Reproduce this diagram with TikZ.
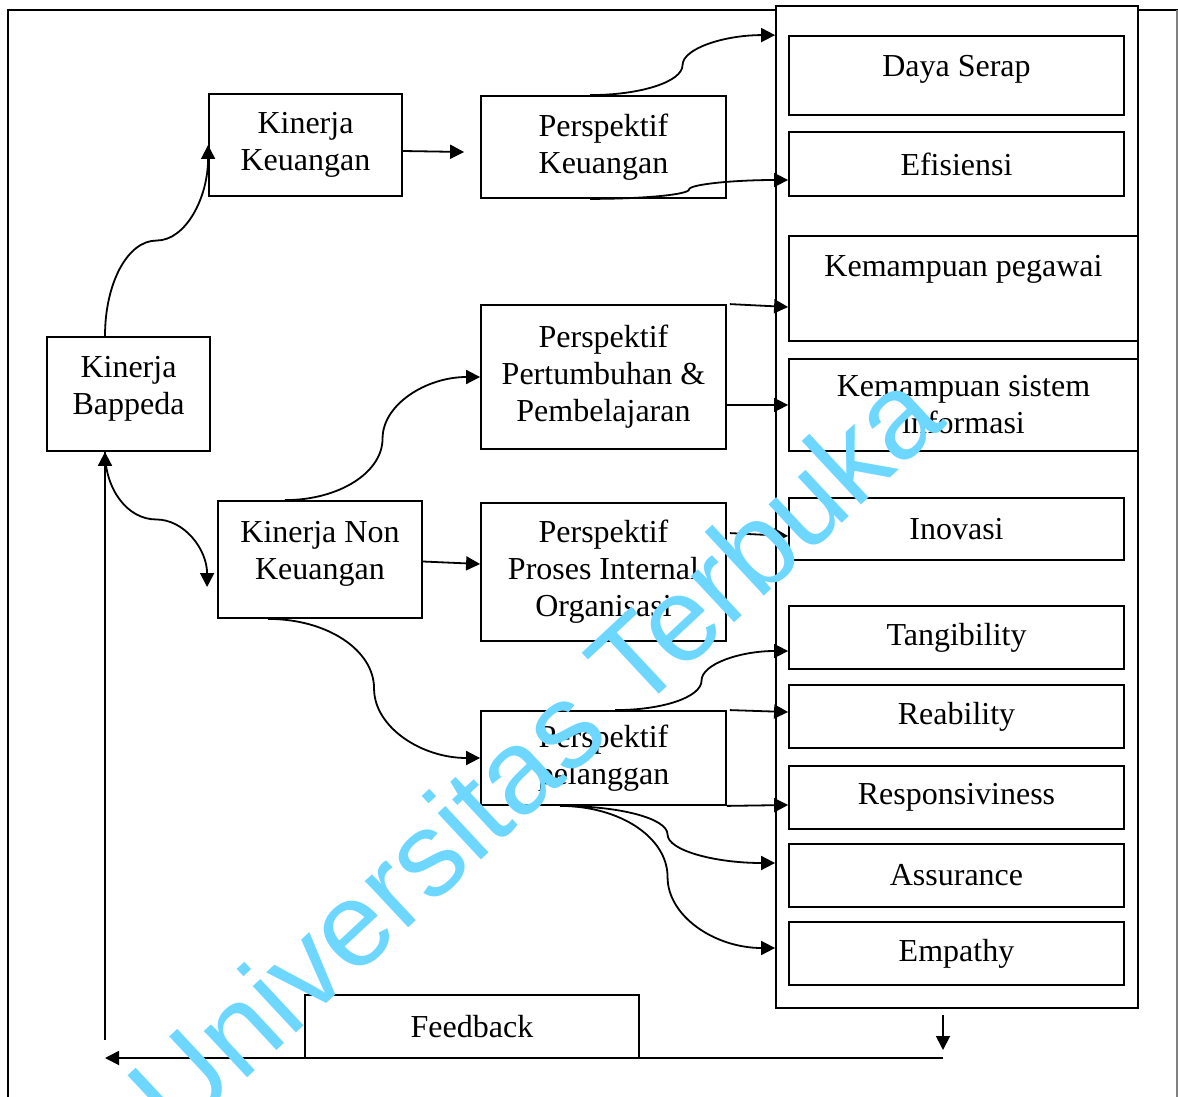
\documentclass[tikz,border=0pt]{standalone}
\usepackage{fontspec}
\setmainfont{Liberation Serif}
\newfontfamily\wmfont{Liberation Sans}
\usetikzlibrary{arrows.meta,calc}
\definecolor{wmblue}{RGB}{110,215,255}

\begin{document}
\begin{tikzpicture}[x=0.5pt,y=-0.5pt,>={Triangle[length=7pt,width=7pt]},line width=0.9pt,
  font=\fontsize{16}{18.5}\selectfont,
  box/.style={draw,inner sep=0pt,align=center}]
\useasboundingbox (0,0) rectangle (1178,1097);

% frame
\draw (8,1097) -- (8,10) -- (776,10);
\draw (1138,10) -- (1178,10);
\draw[gray,line width=0.6pt] (1177,10) -- (1177,1097);

% left side
\node[box,minimum width=81.5pt,minimum height=57pt,label={[yshift=2.5pt,align=center]center:Kinerja\\Bappeda}] (bappeda) at (128.5,394) {};
\node[box,minimum width=96.5pt,minimum height=51pt] (kinkeu) at (305.5,145) {Kinerja\\Keuangan};
\node[box,minimum width=102pt,minimum height=58.5pt,label={[yshift=3pt,align=center]center:Kinerja Non\\Keuangan}] (nonkeu) at (320,559.5) {};

% perspektif
\node[box,minimum width=122.5pt,minimum height=51pt] (perskeu) at (603.5,147) {Perspektif\\Keuangan};
\node[box,minimum width=122.5pt,minimum height=72pt] (perstumbuh) at (603.5,377) {Perspektif\\Pertumbuhan \&\\Pembelajaran};
\node[box,minimum width=122.5pt,minimum height=69pt] (proses) at (603.5,572) {Perspektif\\Proses Internal\\Organisasi};
\node[box,minimum width=122.5pt,minimum height=47pt] (pelanggan) at (603.5,758) {Perspektif\\pelanggan};
\node[box,minimum width=167pt,minimum height=31.5pt] (feedback) at (472,1026.5) {Feedback};

% indikator
\node[box,minimum width=181pt,minimum height=501pt] (column) at (957,507) {};
\node[box,minimum width=167.5pt,minimum height=39.5pt,label={[yshift=3.25pt]center:Daya Serap}] (dayaserap) at (956.5,75.5) {};
\node[box,minimum width=167.5pt,minimum height=32pt] (efisiensi) at (956.5,164) {Efisiensi};
\node[box,minimum width=174.5pt,minimum height=52.5pt,label={[yshift=9.75pt]center:Kemampuan pegawai}] (kpegawai) at (963.5,288.5) {};
\node[box,minimum width=174.5pt,minimum height=46pt] (ksistem) at (963.5,405) {Kemampuan sistem\\informasi};
\node[box,minimum width=167.5pt,minimum height=31pt] (inovasi) at (956.5,529) {Inovasi};
\node[box,minimum width=167.5pt,minimum height=31.5pt] (tangibility) at (956.5,637.5) {Tangibility};
\node[box,minimum width=167.5pt,minimum height=31.5pt] (reability) at (956.5,716.5) {Reability};
\node[box,minimum width=167.5pt,minimum height=31.5pt] (responsiviness) at (956.5,797.5) {Responsiviness};
\node[box,minimum width=167.5pt,minimum height=31.5pt] (assurance) at (956.5,875.5) {Assurance};
\node[box,minimum width=167.5pt,minimum height=31.5pt] (empathy) at (956.5,953.5) {Empathy};

% ends of the curved connectors
\coordinate (bp-n) at (105,0 |- bappeda.north);
\coordinate (bp-s) at (105,0 |- bappeda.south);
\coordinate (nk-in) at ([xshift=-5pt,yshift=-13.75pt]nonkeu.west);
\coordinate (pk-n) at ([xshift=-6.75pt]perskeu.north);
\coordinate (pk-s) at ([xshift=-6.75pt]perskeu.south);
\coordinate (ds-in) at (column.west |- dayaserap.north);
\coordinate (ef-in) at ([yshift=-8pt]efisiensi.west);
\coordinate (nk-n) at ([xshift=-17.5pt]nonkeu.north);
\coordinate (nk-s) at ([xshift=-26pt]nonkeu.south);
\coordinate (pl-n) at ([xshift=5.75pt]pelanggan.north);
\coordinate (pl-s) at ([xshift=-21.75pt]pelanggan.south);
\coordinate (tg-in) at ([yshift=-6.75pt]tangibility.west);
\coordinate (as-in) at (column.west |- 0,863);
\coordinate (em-in) at (column.west |- 0,948);

% curved connectors
\draw[->] (bp-n) .. controls +(0,-53) and +(-29,0) .. ($(bp-n)!.5!(kinkeu.west)$)
  .. controls +(29,0) and +(0,53) .. (kinkeu.west);
\draw[->] (bp-s) .. controls +(0,37.5) and +(-28.5,0) .. ($(bp-s)!.5!(nk-in)$)
  .. controls +(28.5,0) and +(0,-37.5) .. (nk-in);
\draw[->] (pk-n) .. controls +(51,0) and +(0,16.5) .. ($(pk-n)!.5!(ds-in)$)
  .. controls +(0,-16.5) and +(-51,0) .. (ds-in);
\draw[->] (pk-s) .. controls +(55,0) and +(0,5) .. ($(pk-s)!.5!(ef-in)$)
  .. controls +(0,-5) and +(-55,0) .. (ef-in);
\draw[->] (nk-n) .. controls +(54,0) and +(0,34) .. ($(nk-n)!.5!(perstumbuh.west)$)
  .. controls +(0,-34) and +(-54,0) .. (perstumbuh.west);
\draw[->] (nk-s) .. controls +(59,0) and +(0,-38.5) .. ($(nk-s)!.5!(pelanggan.west)$)
  .. controls +(0,38.5) and +(-59,0) .. (pelanggan.west);
\draw[->] (pl-n) .. controls +(48,0) and +(0,16.5) .. ($(pl-n)!.5!(tg-in)$)
  .. controls +(0,-16.5) and +(-48,0) .. (tg-in);
\draw[->] (pl-s) .. controls +(60,0) and +(0,-16) .. ($(pl-s)!.5!(as-in)$)
  .. controls +(0,16) and +(-60,0) .. (as-in);
\draw[->] (pl-s) .. controls +(60,0) and +(0,-39.5) .. ($(pl-s)!.5!(em-in)$)
  .. controls +(0,39.5) and +(-60,0) .. (em-in);

% straight connectors
\draw[->] ([yshift=-3pt]kinkeu.east) -- ([xshift=-8pt,yshift=-2.5pt]perskeu.west);
\draw[->] ([yshift=-1pt]nonkeu.east) -- ([yshift=4pt]proses.west);
\draw[->] ([xshift=1.5pt]perstumbuh.north east) -- ([yshift=-9.25pt]kpegawai.west);
\draw[->] (perstumbuh.east |- ksistem.west) -- (ksistem.west);
\draw[->] ([xshift=1.5pt,yshift=-15.5pt]proses.north east) -- ([yshift=-3.5pt]inovasi.west);
\draw[->] ([xshift=1.5pt]pelanggan.north east) -- ([yshift=2.25pt]reability.west);
\draw[->] (pelanggan.south east) -- ([yshift=-3.75pt]responsiviness.west);

% feedback loop
\coordinate (fbtop) at (943,1015);
\coordinate (fbcorner) at (943,1058);
\coordinate (fbleft) at (105,1058);
\coordinate (fbup) at (105,1040);
\draw[->] (fbtop) -- ([yshift=4pt]fbcorner);
\draw[->] (fbcorner) -- (fbleft);
\draw[->] (fbup) -- (bp-s);

% watermark
\node[text=wmblue,font=\wmfont\fontsize{60}{60}\selectfont,rotate=43] (watermark) at (534,752) {Universitas Terbuka};
\end{tikzpicture}
\end{document}
